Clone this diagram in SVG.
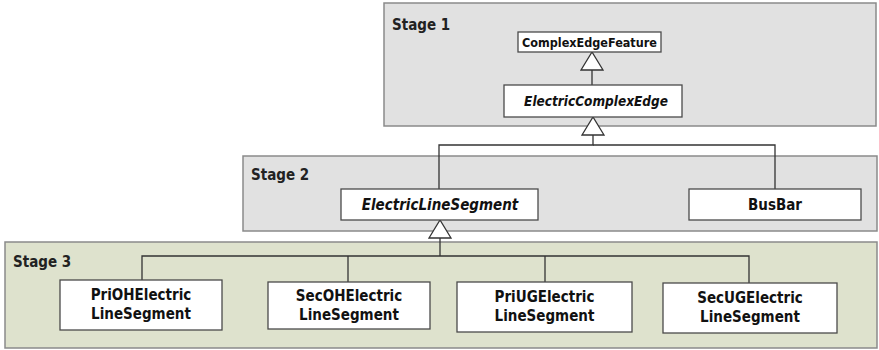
<svg xmlns="http://www.w3.org/2000/svg" width="879" height="350" viewBox="0 0 879 350">
  <style>
    .stage { stroke: #8a8a8a; stroke-width: 1.5; }
    .s12 { fill: #e1e1e1; }
    .s3 { fill: #dee2cd; }
    .stage-label { font-family: "DejaVu Sans Condensed", "DejaVu Sans", sans-serif; font-weight: bold; font-size: 15px; fill: #222; }
    .box { fill: #ffffff; stroke: #4a4a4a; stroke-width: 1.3; }
    .t { font-family: "DejaVu Sans Condensed", "DejaVu Sans", sans-serif; font-weight: bold; fill: #111; text-anchor: middle; }
    .abstract { font-style: italic; }
    .conn { fill: none; stroke: #333; stroke-width: 1.3; }
  </style>
  <defs>
    <!-- hollow triangle: generalization arrowhead -->
    <marker id="gen" viewBox="-1 -1 20 24" refX="18" refY="11" markerWidth="20" markerHeight="24" markerUnits="userSpaceOnUse" orient="auto">
      <path d="M0,0 L18,11 L0,22 Z" fill="#ffffff" stroke="#333" stroke-width="1.3" stroke-linejoin="miter"/>
    </marker>
  </defs>

  <!-- stage panels -->
  <g id="stage1">
    <rect class="stage s12" x="384" y="3" width="492" height="123"/>
    <text class="stage-label" x="392" y="30">Stage 1</text>
  </g>
  <g id="stage2">
    <rect class="stage s12" x="243" y="156" width="634" height="75"/>
    <text class="stage-label" x="251" y="180">Stage 2</text>
  </g>
  <g id="stage3">
    <rect class="stage s3" x="5" y="242" width="872" height="106"/>
    <text class="stage-label" x="13" y="267">Stage 3</text>
  </g>

  <!-- connectors -->
  <g id="connectors">
    <path class="conn" d="M592,85 V52" marker-end="url(#gen)"/>
    <path class="conn" d="M775,189 V145 H593"/>
    <path class="conn" d="M439,189 V145 H593 V117" marker-end="url(#gen)"/>
    <path class="conn" d="M142,280 V256 H749 V283"/>
    <path class="conn" d="M348,282 V256"/>
    <path class="conn" d="M545,282 V256"/>
    <path class="conn" d="M440,256 V220" marker-end="url(#gen)"/>
  </g>

  <!-- classes -->
  <g id="ComplexEdgeFeature">
    <rect class="box" x="518" y="32" width="143" height="20"/>
    <text class="t" x="589.5" y="46.5" font-size="12.5">ComplexEdgeFeature</text>
  </g>
  <g id="ElectricComplexEdge">
    <rect class="box" x="504" y="85" width="178" height="32"/>
    <text class="t abstract" x="596" y="106" font-size="13.5">ElectricComplexEdge</text>
  </g>
  <g id="ElectricLineSegment">
    <rect class="box" x="341" y="189" width="197" height="31"/>
    <text class="t abstract" x="440" y="209.5" font-size="15">ElectricLineSegment</text>
  </g>
  <g id="BusBar">
    <rect class="box" x="689" y="189" width="172" height="31"/>
    <text class="t" x="775" y="210" font-size="15">BusBar</text>
  </g>
  <g id="PriOHElectricLineSegment">
    <rect class="box" x="60" y="280" width="162" height="50"/>
    <text class="t" x="141" y="300" font-size="15">PriOHElectric</text>
    <text class="t" x="141" y="319" font-size="15">LineSegment</text>
  </g>
  <g id="SecOHElectricLineSegment">
    <rect class="box" x="268" y="282" width="162" height="47"/>
    <text class="t" x="349" y="301" font-size="15">SecOHElectric</text>
    <text class="t" x="349" y="320" font-size="15">LineSegment</text>
  </g>
  <g id="PriUGElectricLineSegment">
    <rect class="box" x="457" y="282" width="175" height="50"/>
    <text class="t" x="544.5" y="302" font-size="15">PriUGElectric</text>
    <text class="t" x="544.5" y="321" font-size="15">LineSegment</text>
  </g>
  <g id="SecUGElectricLineSegment">
    <rect class="box" x="663" y="283" width="174" height="50"/>
    <text class="t" x="750" y="303" font-size="15">SecUGElectric</text>
    <text class="t" x="750" y="322" font-size="15">LineSegment</text>
  </g>
</svg>
